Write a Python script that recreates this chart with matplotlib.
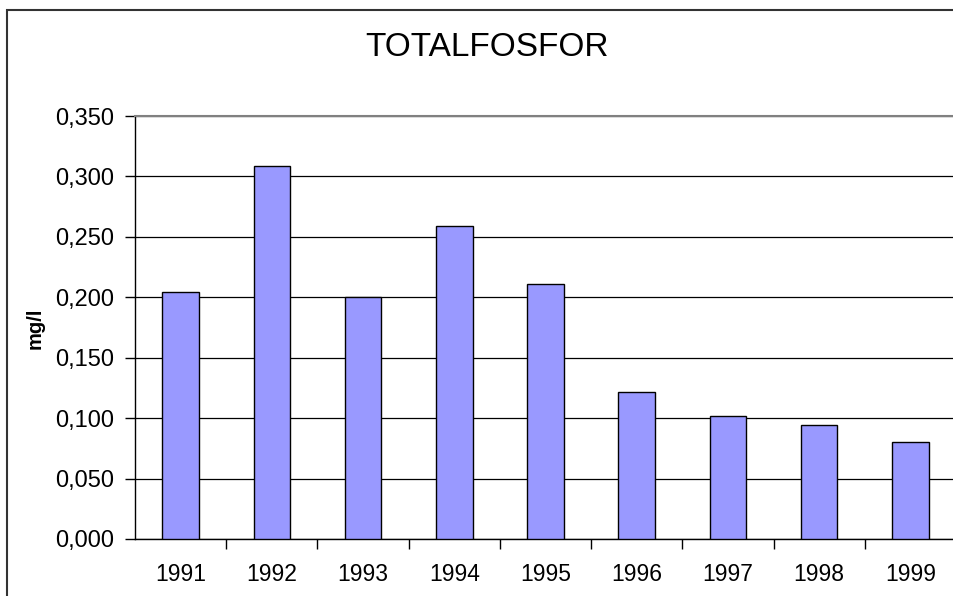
import matplotlib
matplotlib.use("Agg")
import matplotlib.pyplot as plt
from matplotlib.patches import Rectangle
from matplotlib.ticker import FuncFormatter, FixedLocator
import numpy as np

years = ["1991", "1992", "1993", "1994", "1995", "1996", "1997", "1998", "1999"]
values = [0.204, 0.309, 0.200, 0.259, 0.211, 0.122, 0.102, 0.094, 0.080]
yticks = [0.0, 0.05, 0.10, 0.15, 0.20, 0.25, 0.30, 0.35]
title = "TOTALFOSFOR"
ylabel = "mg/l"

plt.rcParams['font.family'] = ['Liberation Sans', 'DejaVu Sans']

W, H = 954, 596
fig = plt.figure(figsize=(W / 100, H / 100), dpi=100)
ax = fig.add_axes([135 / W, 1 - 539 / H, (956 - 135) / W, (539 - 116) / H])

x = np.arange(len(years))
ax.bar(x, values, width=0.40, color="#9999FF", edgecolor="black", linewidth=1.0, zorder=3)

ax.set_xlim(-0.5, len(years) - 0.5)
ax.set_ylim(0, 0.35)
ax.set_yticks(yticks)
ax.yaxis.set_major_formatter(FuncFormatter(lambda v, p: f"{v:.3f}".replace(".", ",")))
ax.grid(axis="y", color="black", linewidth=0.9, zorder=0)
ax.set_axisbelow(True)

ax.set_xticks(x)
ax.set_xticklabels(years)
ax.xaxis.set_minor_locator(FixedLocator(np.arange(0.5, len(years) - 0.5, 1.0)))
ax.tick_params(axis="x", which="major", length=0, pad=17, labelsize=16.5)
ax.tick_params(axis="x", which="minor", length=7, width=1, direction="out", color="black")
ax.tick_params(axis="y", which="major", length=7, width=1, direction="out", pad=8, labelsize=17)

for s in ["left", "bottom"]:
    ax.spines[s].set_color("black")
    ax.spines[s].set_linewidth(1.0)
ax.spines["top"].set_color("#808080")
ax.spines["top"].set_linewidth(1.5)
ax.spines["right"].set_visible(False)

fig.text(487 / W, 1 - 47 / H, title, ha="center", va="center", fontsize=24)
fig.text(35 / W, 1 - 328 / H, ylabel, ha="center", va="center", rotation=90,
         fontsize=14.5, fontweight="bold")

frame = Rectangle((7 / W, -0.1), 1.2, 1 - 10 / H + 0.1, transform=fig.transFigure,
                  fill=False, edgecolor="#333333", linewidth=1.5)
fig.patches.append(frame)

fig.savefig("out.png", dpi=100)
